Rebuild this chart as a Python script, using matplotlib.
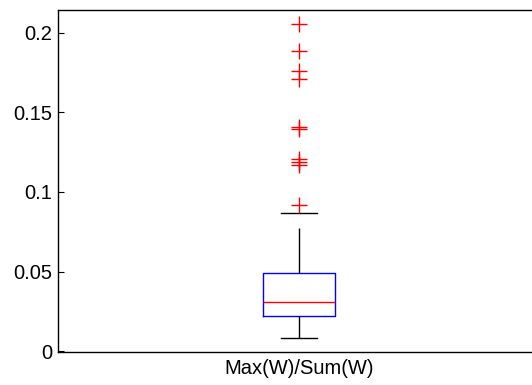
import matplotlib
matplotlib.use("Agg")
import matplotlib.pyplot as plt

# box statistics
label = "Max(W)/Sum(W)"
q1 = 0.0222
median = 0.0310
q3 = 0.0488
whisker_low = 0.0082
whisker_high = 0.0865
outliers = [0.2053, 0.1887, 0.1759, 0.1707, 0.1406, 0.1393,
            0.1205, 0.1189, 0.1171, 0.0917]

yticks = [0, 0.05, 0.1, 0.15, 0.2]
yticklabels = ["0", "0.05", "0.1", "0.15", "0.2"]

plt.rcParams["font.family"] = ["Liberation Sans", "DejaVu Sans"]
plt.rcParams["font.size"] = 14.5

fig = plt.figure(figsize=(5.32, 3.85), dpi=100)
ax = fig.add_axes([0.109, 0.0857, 0.907, 0.888])

stats = [{
    "label": label,
    "q1": q1, "med": median, "q3": q3,
    "whislo": whisker_low, "whishi": whisker_high,
    "fliers": outliers,
}]

ax.bxp(stats, positions=[1], widths=0.149, capwidths=0.0746,
       showfliers=True,
       boxprops=dict(color="blue", linewidth=1.0),
       medianprops=dict(color="red", linewidth=1.0),
       whiskerprops=dict(color="black", linewidth=1.0,
                         linestyle=(0, (32.4, 10.8))),
       capprops=dict(color="black", linewidth=1.0),
       flierprops=dict(marker="+", markeredgecolor="red", markersize=12,
                       markeredgewidth=1.0, linestyle="none"))

ax.set_xlim(0.5, 1.5)
ax.set_ylim(-0.0006, 0.2143)
ax.set_yticks(yticks)
ax.set_yticklabels(yticklabels)
ax.set_xticks([1])
ax.set_xticklabels([label])
ax.tick_params(axis="y", direction="in", length=4, width=0.8, pad=4)
ax.tick_params(axis="x", length=0, pad=5)
for s in ax.spines.values():
    s.set_linewidth(1.0)

fig.savefig("out.png", dpi=100)
